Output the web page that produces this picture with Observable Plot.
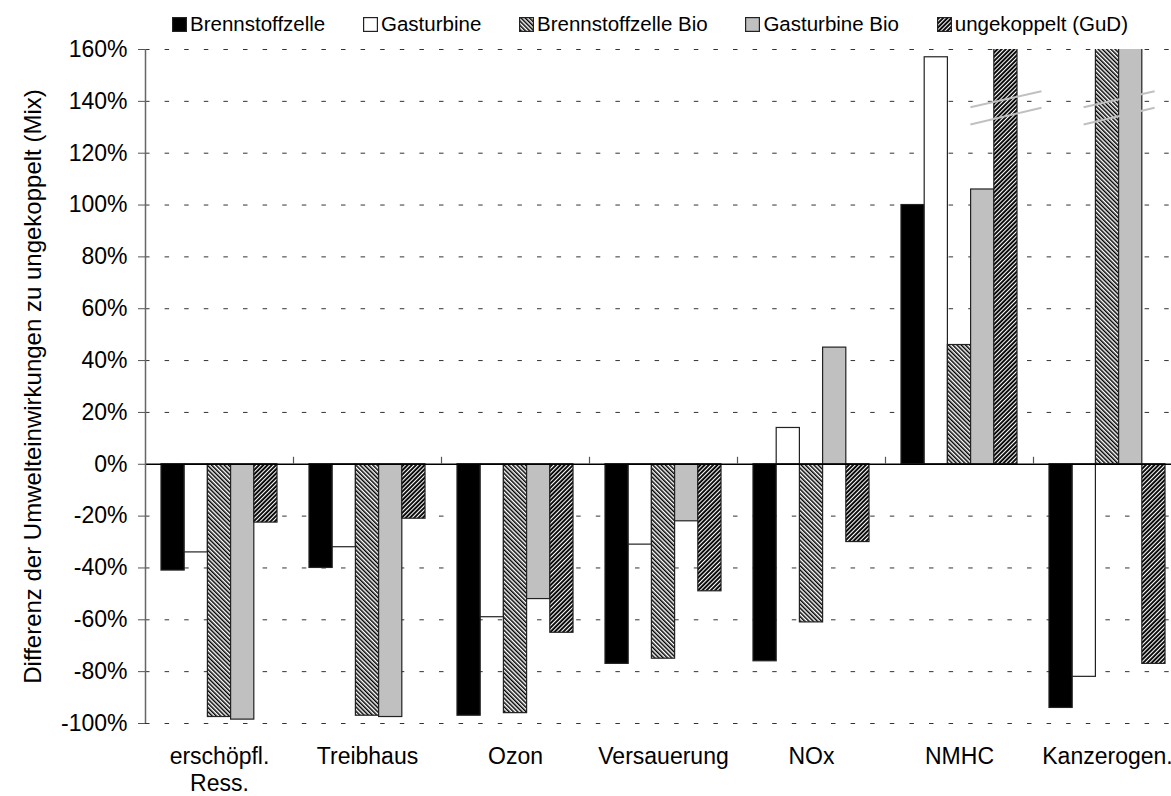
<!DOCTYPE html>
<html>
<head>
<meta charset="utf-8">
<script src="https://cdn.jsdelivr.net/npm/d3@7"></script>
<script src="https://cdn.jsdelivr.net/npm/@observablehq/plot@0.6"></script>
<style>
  html, body { margin: 0; padding: 0; background: #fff; overflow: hidden; }
  #wrap { position: relative; width: 1171px; height: 796px; font-family: "Liberation Sans", Arial, sans-serif; }
  #legend { position: absolute; left: 172px; width: 956px; top: 12px; height: 24px;
            display: flex; justify-content: space-between; align-items: center;
            font-size: 20.5px; color: #000; white-space: nowrap; }
  #legend .item { display: flex; align-items: center; }
  #legend svg { margin-right: 3px; }
</style>
</head>
<body>
<svg width="0" height="0" style="position:absolute">
  <defs>
    <pattern id="hatchBio" patternUnits="userSpaceOnUse" width="3" height="3" patternTransform="rotate(-45)">
      <rect width="3" height="3" fill="#fff"/>
      <rect width="1.5" height="3" fill="#000"/>
    </pattern>
    <pattern id="hatchGuD" patternUnits="userSpaceOnUse" width="3" height="3" patternTransform="rotate(45)">
      <rect width="3" height="3" fill="#000"/>
      <rect width="1.1" height="3" fill="#fff"/>
    </pattern>
  </defs>
</svg>
<div id="wrap">
  <div id="legend"></div>
</div>
<script>
// ---- data ----
const categories = ["erschöpfl.\nRess.", "Treibhaus", "Ozon", "Versauerung", "NOx", "NMHC", "Kanzerogen."];
const series = ["Brennstoffzelle", "Gasturbine", "Brennstoffzelle Bio", "Gasturbine Bio", "ungekoppelt (GuD)"];
const brennstoffzelle    = [-41,   -40,   -97, -77, -76, 100, -94];
const gasturbine         = [-34,   -32,   -59, -31,  14, 157, -82];
const brennstoffzelleBio = [-97.5, -97,   -96, -75, -61,  46, 250];
const gasturbineBio      = [-98.5, -97.5, -52, -22,  45, 106, 250];
const ungekoppelt        = [-22.5, -21,   -65, -49, -30, 250, -77];
const yTicks = [-100, -80, -60, -40, -20, 0, 20, 40, 60, 80, 100, 120, 140, 160];
const yLabel = "Differenz der Umwelteinwirkungen zu ungekoppelt (Mix)";
// axis breaks: category index, first/last broken series index
const breaks = [{cat: 5, first: 4, last: 4}, {cat: 6, first: 2, last: 3}];
const breakLines = [{from: 137.7, to: 143.9}, {from: 131.1, to: 137.5}];

// ---- styling ----
const fills = ["#000000", "#ffffff", "url(#hatchBio)", "#c0c0c0", "url(#hatchGuD)"];
const groupFrac = 0.784;
const barW = groupFrac / series.length;

const valuesBySeries = [brennstoffzelle, gasturbine, brennstoffzelleBio, gasturbineBio, ungekoppelt];
const table = [];
categories.forEach((c, ci) => {
  series.forEach((s, si) => {
    const x1 = ci - groupFrac / 2 + si * barW;
    table.push({category: c, series: s, ci, si, x1, x2: x1 + barW, value: valuesBySeries[si][ci]});
  });
});

const breakMarks = [];
breaks.forEach(b => {
  const center = b.cat - groupFrac / 2 + (b.first + b.last + 1) / 2 * barW;
  breakLines.forEach(l => breakMarks.push({x1: center - 0.24, x2: center + 0.24, y1: l.from, y2: l.to}));
});

const boundaries = d3.range(categories.length + 1).map(i => i - 0.5);

const plot = Plot.plot({
  width: 1171,
  height: 796,
  marginTop: 49,
  marginBottom: 73,
  marginLeft: 145,
  marginRight: 0,
  style: {fontFamily: "Liberation Sans, Arial, sans-serif", fontSize: "23px", background: "#fff", color: "#000"},
  x: {domain: [-0.5, categories.length - 0.5], range: [145, 1181], axis: null},
  y: {domain: [-100, 160], range: [723, 49], axis: null},
  color: {type: "ordinal", domain: series, range: fills},
  marks: [
    Plot.ruleY(yTicks.filter(d => d !== 0), {y: d => d, stroke: "#333", strokeWidth: 1, strokeDasharray: "4.5,15.1"}),
    Plot.rect(table, {x1: "x1", x2: "x2", y1: 0, y2: "value", fill: "series", stroke: "#222", strokeWidth: 1.2, clip: true}),
    Plot.ruleY([0], {stroke: "#000", strokeWidth: 1.3}),
    Plot.ruleX(boundaries.slice(1), {x: d => d, y1: 0, y2: 0, insetTop: -7, stroke: "#555", strokeWidth: 1.2}),
    Plot.ruleX([-0.5], {y1: -100, y2: 160, stroke: "#666", strokeWidth: 1.5}),
    Plot.link(breakMarks, {x1: "x1", x2: "x2", y1: "y1", y2: "y2", stroke: "#c0c0c0", strokeWidth: 2}),
    Plot.axisY({ticks: yTicks, tickFormat: d => d + "%", tickSize: 7, tickPadding: 11, stroke: "#555", fontSize: 23, label: null}),
    Plot.text(categories, {x: (d, i) => i, text: d => d, frameAnchor: "bottom", lineAnchor: "top", dy: 21, lineHeight: 1.18, fontSize: 23}),
    Plot.text([yLabel], {text: d => d, frameAnchor: "left", rotate: -90, dx: -112, fontSize: 24, textAnchor: "middle"})
  ]
});
document.getElementById("wrap").appendChild(plot);

// ---- legend ----
const legend = document.getElementById("legend");
series.forEach((s, i) => {
  const item = document.createElement("span");
  item.className = "item";
  item.innerHTML = `<svg width="15" height="15"><rect x="0.6" y="0.6" width="13.8" height="13.8" fill="${fills[i]}" stroke="#222" stroke-width="1.2"/></svg><span>${s}</span>`;
  legend.appendChild(item);
});
</script>
</body>
</html>
